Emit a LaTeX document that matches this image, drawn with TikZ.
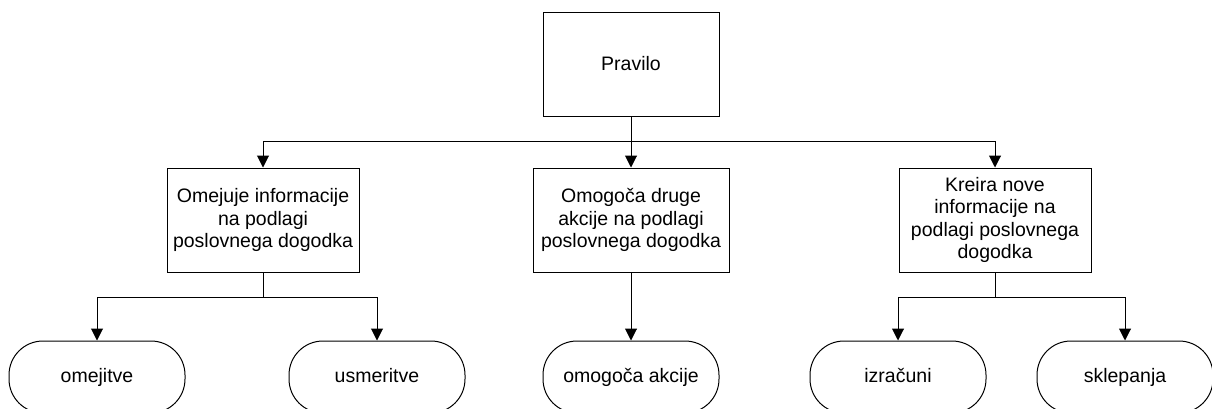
\documentclass[tikz,border=0pt]{standalone}
\usepackage{fontspec}
\setmainfont{Liberation Sans}
\usetikzlibrary{arrows.meta}
\begin{document}
\begin{tikzpicture}[x=1pt,y=-1pt,
  txt/.style={font=\fontsize{19.5}{22.5}\selectfont},
  box/.style={txt, draw, line width=1pt, minimum width=192pt, minimum height=104pt,
    align=center, inner sep=0pt},
  term/.style={txt, draw, line width=1pt, rounded corners=34pt, minimum width=176pt,
    minimum height=72pt, inner sep=0pt, text height=14pt, text depth=4pt},
  arr/.style={draw, line width=1pt, -{Triangle[width=12pt,length=12pt]}}]
\useasboundingbox (0,0) rectangle (1212,408);
\clip (0,0) rectangle (1212,408);

% root rule
\node[box, minimum width=176pt] (rule) at (631,64) {Pravilo};

% kinds of rules
\node[box] (b1) at (263,220) {Omejuje informacije\\na podlagi\\poslovnega dogodka};
\node[box, minimum width=196pt] (b2) at (631,220) {Omogoča druge\\akcije na podlagi\\poslovnega dogodka};
\node[box] (b3) at (995,220) {Kreira nove\\informacije na\\podlagi poslovnega\\dogodka};

% terminal outcomes
\node[term] (t1) at (97,377) {omejitve};
\node[term] (t2) at (377,377) {usmeritve};
\node[term] (t3) at (631,377) {omogoča akcije};
\node[term] (t4) at (898,377) {izračuni};
\node[term] (t5) at (1125,377) {sklepanja};

% connectors
\draw[arr] (rule.south) -- ++(0,25) -| (b1.north);
\draw[arr] (rule.south) -- (b2.north);
\draw[arr] (rule.south) -- ++(0,25) -| (b3.north);

\draw[arr] (b1.south) -- ++(0,25) -| (t1.north);
\draw[arr] (b1.south) -- ++(0,25) -| (t2.north);
\draw[arr] (b2.south) -- (t3.north);
\draw[arr] (b3.south) -- ++(0,25) -| (t4.north);
\draw[arr] (b3.south) -- ++(0,25) -| (t5.north);
\end{tikzpicture}
\end{document}
